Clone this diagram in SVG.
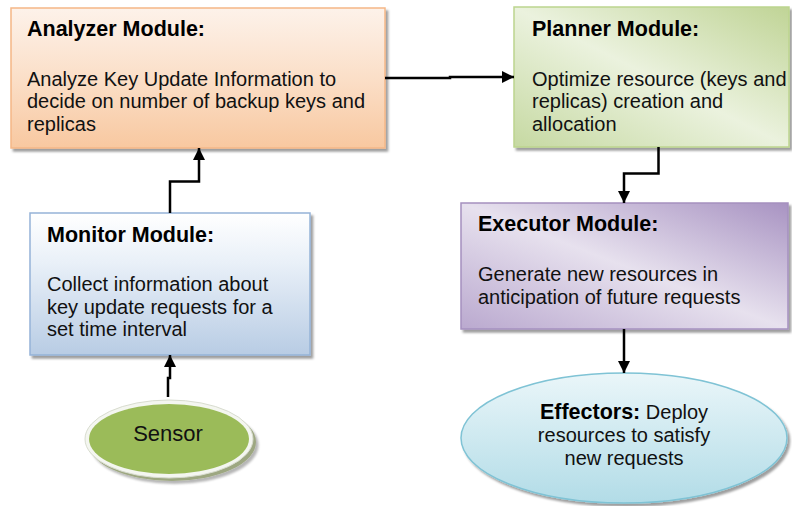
<svg xmlns="http://www.w3.org/2000/svg" width="792" height="506" viewBox="0 0 792 506">
  <defs>
    <style>
      .title { font-family: "Liberation Sans", Arial, sans-serif; font-size: 21.5px; font-weight: bold; fill: #000; }
      .body { font-family: "Liberation Sans", Arial, sans-serif; font-size: 20px; fill: #111; }
      .conn { fill: none; stroke: #000; stroke-width: 2.5; stroke-linejoin: miter; }
    </style>
    <filter id="shadow" x="-10%" y="-10%" width="120%" height="130%">
      <feDropShadow dx="2.5" dy="3" stdDeviation="1" flood-color="#000" flood-opacity="0.38"/>
    </filter>
    <linearGradient id="gAnalyzer" x1="0" y1="0" x2="0" y2="1">
      <stop offset="0" stop-color="#fdf2ea"/>
      <stop offset="0.5" stop-color="#fbdfc8"/>
      <stop offset="1" stop-color="#f8c8a0"/>
    </linearGradient>
    <linearGradient id="gPlanner" x1="1" y1="0" x2="0" y2="1">
      <stop offset="0" stop-color="#c0d496"/>
      <stop offset="0.5" stop-color="#ebf2de"/>
      <stop offset="1" stop-color="#c6d9a2"/>
    </linearGradient>
    <linearGradient id="gMonitor" x1="0" y1="0" x2="0" y2="1">
      <stop offset="0" stop-color="#ffffff"/>
      <stop offset="0.35" stop-color="#e9f0f8"/>
      <stop offset="1" stop-color="#b8cce4"/>
    </linearGradient>
    <linearGradient id="gExecutor" x1="1" y1="0" x2="0" y2="1">
      <stop offset="0" stop-color="#a893c2"/>
      <stop offset="0.5" stop-color="#e7e1ee"/>
      <stop offset="1" stop-color="#baa9cf"/>
    </linearGradient>
    <linearGradient id="gEffectors" x1="0" y1="0" x2="0" y2="1">
      <stop offset="0" stop-color="#eaf6f9"/>
      <stop offset="1" stop-color="#b2dce7"/>
    </linearGradient>
    <marker id="arrow" markerUnits="userSpaceOnUse" markerWidth="13" markerHeight="13" refX="12" refY="6" orient="auto">
      <path d="M0,0 L12,6 L0,12 Z" fill="#000"/>
    </marker>
  </defs>

  <rect width="792" height="506" fill="#fff"/>

  <!-- Analyzer -->
  <g id="analyzer">
    <rect x="11" y="8" width="374" height="140" fill="url(#gAnalyzer)" stroke="#f5b787" stroke-width="1.5" filter="url(#shadow)"/>
    <text class="title" x="27" y="36">Analyzer Module:</text>
    <text class="body" x="27" y="85.5">Analyze Key Update Information to</text>
    <text class="body" x="27" y="108">decide on number of backup keys and</text>
    <text class="body" x="27" y="130.5">replicas</text>
  </g>

  <!-- Planner -->
  <g id="planner">
    <rect x="514" y="7" width="275" height="140" fill="url(#gPlanner)" stroke="#bcd58e" stroke-width="1.5" filter="url(#shadow)"/>
    <text class="title" x="532" y="36">Planner Module:</text>
    <text class="body" x="532" y="85.5">Optimize resource (keys and</text>
    <text class="body" x="532" y="108">replicas) creation and</text>
    <text class="body" x="532" y="130.5">allocation</text>
  </g>

  <!-- Monitor -->
  <g id="monitor">
    <rect x="30" y="213" width="280" height="142" fill="url(#gMonitor)" stroke="#95b3d7" stroke-width="1.5" filter="url(#shadow)"/>
    <text class="title" x="47" y="242">Monitor Module:</text>
    <text class="body" x="47" y="291">Collect information about</text>
    <text class="body" x="47" y="313.5">key update requests for a</text>
    <text class="body" x="47" y="336">set time interval</text>
  </g>

  <!-- Executor -->
  <g id="executor">
    <rect x="461" y="203" width="327" height="126" fill="url(#gExecutor)" stroke="#a590bf" stroke-width="1.5" filter="url(#shadow)"/>
    <text class="title" x="478" y="231">Executor Module:</text>
    <text class="body" x="478" y="281">Generate new resources in</text>
    <text class="body" x="478" y="303.5">anticipation of future requests</text>
  </g>

  <!-- Sensor -->
  <g id="sensor">
    <ellipse cx="172" cy="442" rx="84" ry="39" fill="#7d8a58" opacity="0.75" filter="url(#shadow)"/>
    <ellipse cx="169" cy="439" rx="84" ry="39" fill="#f4f6f0" stroke="#d8dccf" stroke-width="1"/>
    <ellipse cx="169" cy="439" rx="80" ry="35" fill="#9bbb59"/>
    <text x="168" y="441" text-anchor="middle" font-family="'Liberation Sans', Arial, sans-serif" font-size="22" fill="#111">Sensor</text>
  </g>

  <!-- Effectors -->
  <g id="effectors">
    <ellipse cx="624" cy="438" rx="163" ry="65" fill="url(#gEffectors)" stroke="#7fc3d5" stroke-width="1.5" filter="url(#shadow)"/>
    <text x="624" y="419" text-anchor="middle" font-family="'Liberation Sans', Arial, sans-serif" font-size="20" fill="#111"><tspan font-weight="bold" font-size="21.5" fill="#000">Effectors:</tspan> Deploy</text>
    <text class="body" x="624" y="442" text-anchor="middle">resources to satisfy</text>
    <text class="body" x="624" y="465" text-anchor="middle">new requests</text>
  </g>

  <!-- Connectors -->
  <g id="connectors">
    <path class="conn" d="M385,78 H450 V77 H514" marker-end="url(#arrow)"/>
    <path class="conn" d="M170,213 V181.5 H199 V148" marker-end="url(#arrow)"/>
    <path class="conn" d="M658.5,147 V173.5 H624 V203" marker-end="url(#arrow)"/>
    <path class="conn" d="M624,329 V373" marker-end="url(#arrow)"/>
    <path class="conn" d="M168,397 V378 H170 V355" marker-end="url(#arrow)"/>
  </g>
</svg>
